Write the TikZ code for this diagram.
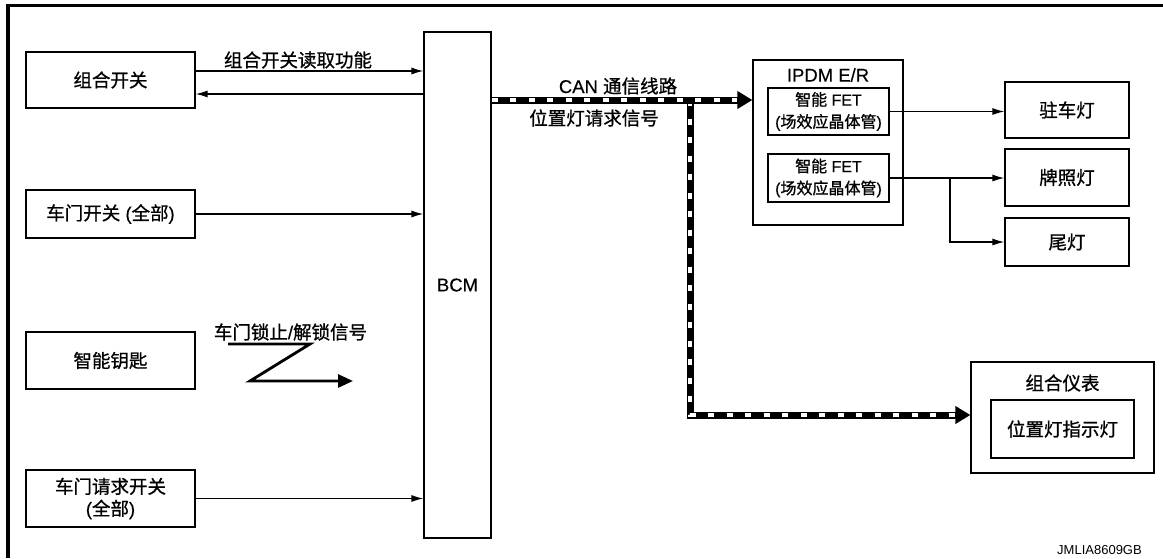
\documentclass[tikz,border=0pt]{standalone}
\usepackage{fontspec}
\setmainfont{Liberation Sans}[FakeBold=0.3]
\newfontfamily\cjk{Noto Sans CJK SC}[FakeBold=0.9]
\newfontfamily\plain{Liberation Sans}
\usetikzlibrary{arrows.meta}
\begin{document}
\begin{tikzpicture}[x=1pt,y=-1pt,
  box/.style={draw, line width=1.2pt, inner sep=0pt, align=center, font=\fontsize{18.5}{22}\selectfont},
  fetbox/.style={box, font=\fontsize{16}{22}\selectfont},
  arr/.style={line width=1.3pt, -{Latex[length=12pt,width=7pt]}},
  can/.style={line width=7pt, -{Triangle[length=15pt,width=17pt]},
    postaction={draw=white, line width=3.5pt, dash pattern=on 6pt off 12.5pt, shorten >=15pt, -}},
  lbl/.style={font=\fontsize{18.5}{22}\selectfont, inner sep=0pt},
  frame/.style={line width=3.5pt}]
\useasboundingbox (0,0) rectangle (1163,558);
% frame
\coordinate (f1) at (1163,5.5);
\coordinate (f2) at (8,5.5);
\coordinate (f3) at (8,558);
\draw[frame] (f1) -- (f2) -- (f3);

% left boxes
\node[box, minimum width=169, minimum height=56] (kh) at (110.5,80) {\cjk 组合开关};
\node[box, minimum width=169, minimum height=48] (mk) at (110.5,214) {{\cjk 车门开关} ({\cjk 全部})};
\node[box, minimum width=169, minimum height=57] (zy) at (110.5,360.5) {\cjk 智能钥匙};
\node[box, minimum width=169, minimum height=57] (qq) at (110.5,498.5) {{\cjk 车门请求开关}\\({\cjk 全部})};

% BCM
\node[box, minimum width=67, minimum height=506] (bcm) at (457.5,285) {BCM};

% IPDM
\node[box, minimum width=150, minimum height=165] (ipdm) at (828,142.5) {};
\node[lbl] (ipdmt) at (828,75) {IPDM E/R};
\node[fetbox, minimum width=121, minimum height=47] (fet1) at (828.5,111.5) {{\cjk 智能} FET\\({\cjk 场效应晶体管})};
\node[fetbox, minimum width=121, minimum height=48] (fet2) at (828.5,178) {{\cjk 智能} FET\\({\cjk 场效应晶体管})};

% lamps
\node[box, minimum width=124, minimum height=56] (zc) at (1067,110) {\cjk 驻车灯};
\node[box, minimum width=124, minimum height=57] (pz) at (1067,177.5) {\cjk 牌照灯};
\node[box, minimum width=124, minimum height=48] (wd) at (1067,242) {\cjk 尾灯};

% meter
\node[box, minimum width=183, minimum height=111] (yb) at (1062.5,417.5) {};
\node[lbl] (ybt) at (1062.5,383) {\cjk 组合仪表};
\node[box, minimum width=143, minimum height=58] (zsd) at (1062.5,429) {\cjk 位置灯指示灯};

% helper coordinates
\coordinate (y71) at (0,71);
\coordinate (y94) at (0,94);
\coordinate (y100) at (0,100);
\coordinate (y415) at (0,415);
\coordinate (br) at (690,100);
\coordinate (x950) at (950,0);

% left connectors
\draw[arr] (kh.east |- y71) -- (bcm.west |- y71);
\draw[arr] (bcm.west |- y94) -- (kh.east |- y94);
\draw[arr] (mk.east) -- (mk.east -| bcm.west);
\draw[arr] (qq.east) -- (qq.east -| bcm.west);

% labels
\node[lbl] (l1) at (298,60) {\cjk 组合开关读取功能};
\node[lbl] (l2) at (290.5,332) {{\cjk 车门锁止}/{\cjk 解锁信号}};
\node[lbl] (l3) at (618,86) {CAN {\cjk 通信线路}};
\node[lbl] (l4) at (594,118) {\cjk 位置灯请求信号};
\node[font=\plain\fontsize{13}{15}\selectfont, inner sep=0pt] (code) at (1099.5,550) {JMLIA8609GB};

% wireless symbol
\coordinate (w1) at (228,344);
\coordinate (w2) at (310,344);
\coordinate (w3) at (250,381);
\coordinate (w4) at (353,381);
\draw[line width=2.8pt, -{Triangle[length=15pt,width=13pt]}] (w1) -- (w2) -- (w3) -- (w4);

% CAN lines
\draw[can] (br) |- (yb.west |- y415);
\draw[can] (bcm.east |- y100) -- (ipdm.west |- y100);

% IPDM outputs
\draw[arr] (fet1.east) -- (fet1.east -| zc.west);
\draw[arr] (fet2.east) -- (fet2.east -| pz.west);
\draw[arr] (fet2.east -| x950) |- (wd.west);
\end{tikzpicture}
\end{document}
